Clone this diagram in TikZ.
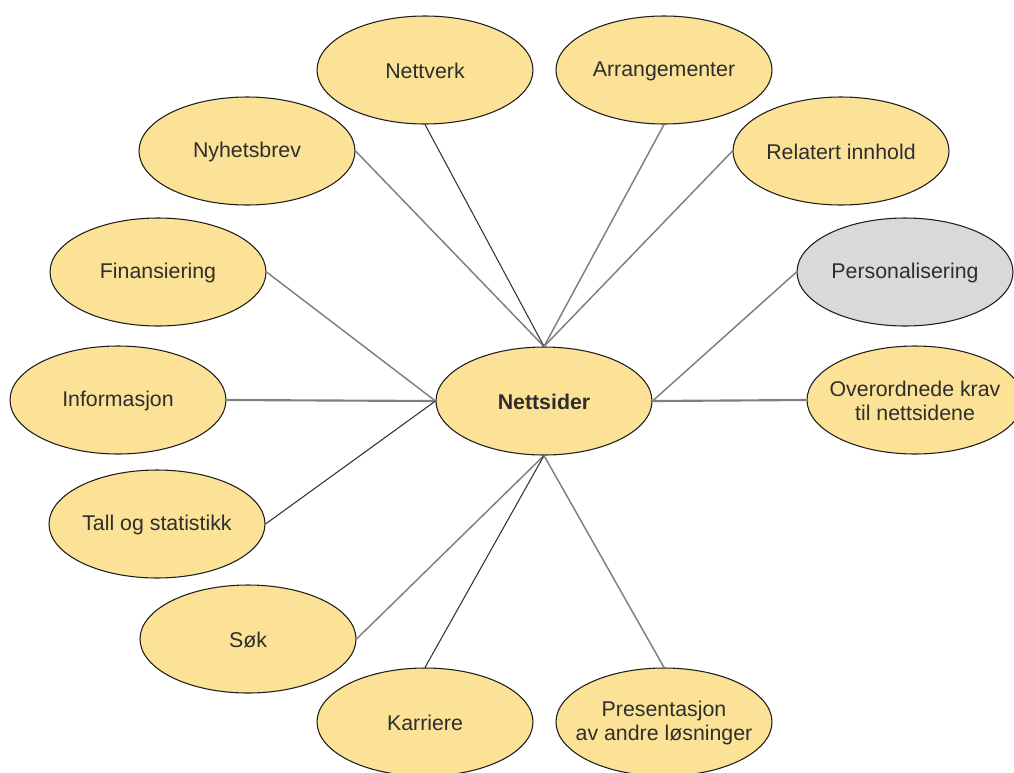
\documentclass[tikz,border=0pt]{standalone}
\usepackage{fontspec}
\setmainfont{Liberation Sans}
\usetikzlibrary{shapes.geometric}
\definecolor{bubble}{HTML}{FCE296}
\definecolor{greybubble}{HTML}{D9D9D9}
\definecolor{edge}{HTML}{1E1E1E}
\definecolor{txt}{HTML}{2E2E2E}
\definecolor{linkgrey}{HTML}{7F7F7F}
\definecolor{linkdark}{HTML}{333333}
\tikzset{
  topic/.style={ellipse, draw=edge, line width=0.8pt, fill=bubble,
    minimum width=162pt, minimum height=81pt, inner sep=0pt,
    label={[text=txt, align=center, font=\fontsize{16}{18}\selectfont, yshift=-1pt]center:#1}},
  greytopic/.style={topic=#1, fill=greybubble},
  lightlink/.style={draw=linkgrey, line width=1.1pt},
  heavylink/.style={draw=linkgrey, line width=1.6pt},
  darklink/.style={draw=linkdark, line width=0.8pt},
}
\begin{document}
\begin{tikzpicture}[x=0.75pt, y=-0.75pt]
\useasboundingbox (0,0) rectangle (1014,772);
\clip (0,0) rectangle (1014,772);

% hub
\node[topic={\textbf{Nettsider}}] (hub) at (544,401) {};

% surrounding topics
\node[topic={Nettverk}] (nettverk) at (425,70) {};
\node[topic={Arrangementer}] (arr) at (664,70) {};
\node[topic={Nyhetsbrev}] (nyhet) at (247,151) {};
\node[topic={Relatert innhold}] (relatert) at (841,151) {};
\node[topic={Finansiering}] (finans) at (158,272) {};
\node[greytopic={Personalisering}] (person) at (905,272) {};
\node[topic={Informasjon}] (info) at (118,400) {};
\node[topic={Overordnede krav\\til nettsidene}] (krav) at (915,400) {};
\node[topic={Tall og statistikk}] (tall) at (157,524) {};
\node[topic={Søk}] (sok) at (248,639) {};
\node[topic={Karriere}] (karriere) at (425,722) {};
\node[topic={Presentasjon\\av andre løsninger}] (present) at (664,722) {};

% links to the hub
\path[lightlink] (nyhet.east) -- (hub.north);
\path[darklink] (nettverk.south) -- (hub.north);
\path[lightlink] (arr.south) -- (hub.north);
\path[lightlink] (relatert.west) -- (hub.north);
\path[lightlink] (finans.east) -- (hub.west);
\path[heavylink] (info.east) -- (hub.west);
\path[darklink] (tall.east) -- (hub.west);
\path[lightlink] (sok.east) -- (hub.south);
\path[darklink] (karriere.north) -- (hub.south);
\path[lightlink] (present.north) -- (hub.south);
\path[lightlink] (person.west) -- (hub.east);
\path[heavylink] (krav.west) -- (hub.east);
\end{tikzpicture}
\end{document}
